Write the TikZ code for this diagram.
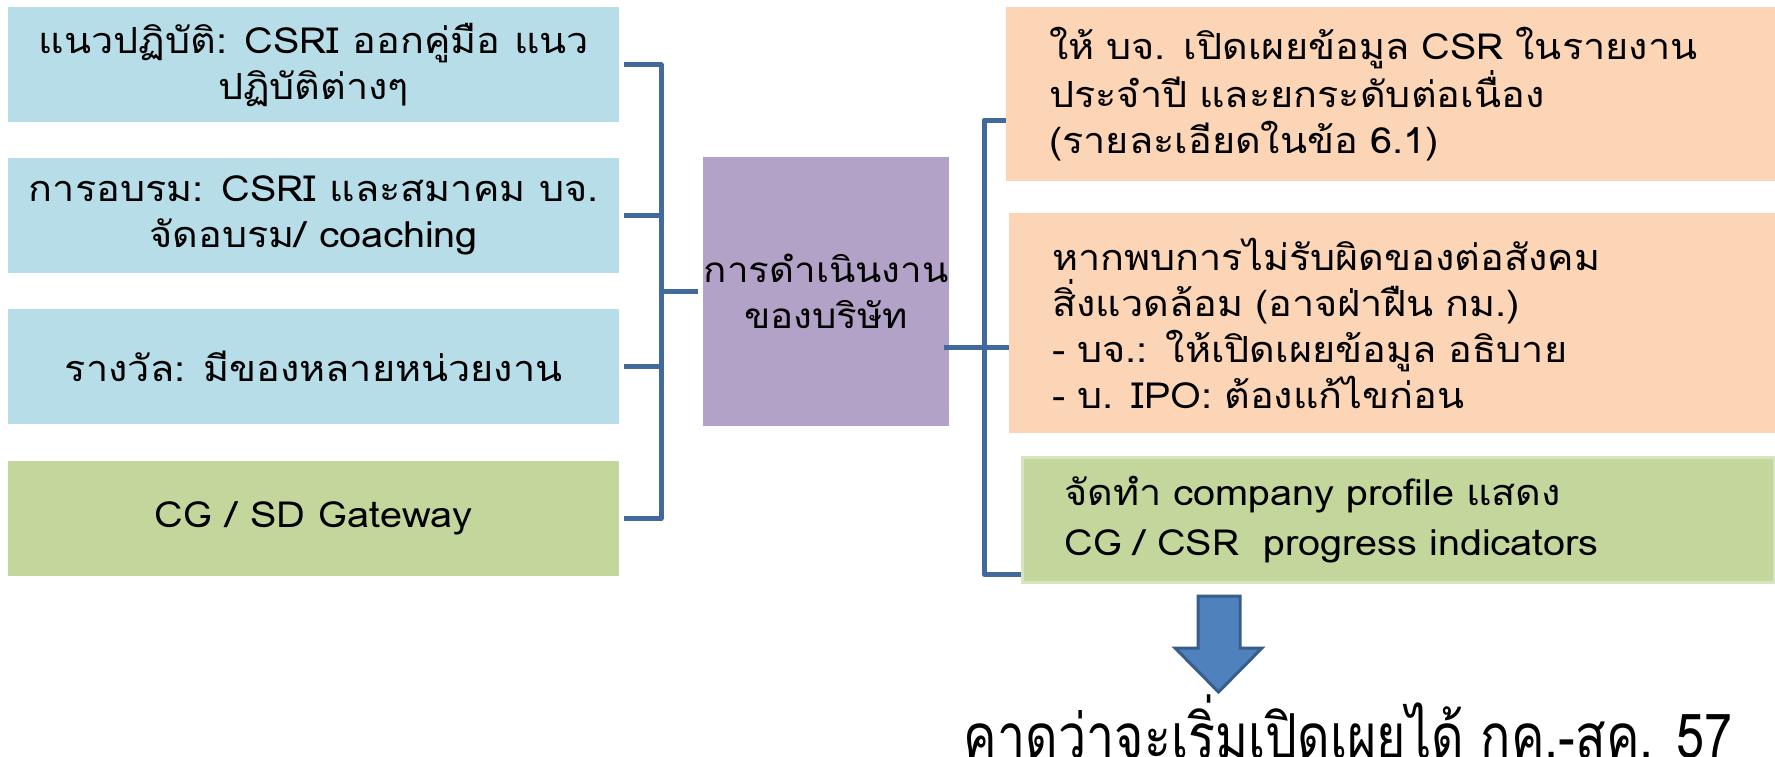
\documentclass[tikz,border=0pt]{standalone}
\usepackage{fontspec}
\setmainfont[Script=Thai,FakeStretch=1.1]{Loma}
\newfontfamily\bigthai[Script=Thai,FakeStretch=0.81]{Loma}
\usetikzlibrary{calc}
\definecolor{cblue}{HTML}{B7DEE8}
\definecolor{cgreen}{HTML}{C3D69B}
\definecolor{cgreenline}{HTML}{D7E4BD}
\definecolor{corange}{HTML}{FBD5B5}
\definecolor{cpurple}{HTML}{B3A2C7}
\definecolor{cline}{HTML}{41699C}
\definecolor{carrow}{HTML}{4F81BD}
\definecolor{carrowline}{HTML}{385D8A}
\tikzset{
  boxtext/.style={font=\fontsize{36}{46}\selectfont, text=black},
  lbox/.style={boxtext, fill=cblue, minimum width=611pt, minimum height=115pt, align=center, inner sep=0pt, anchor=north west},
  rbox/.style={boxtext, fill=corange, inner xsep=43pt, inner ysep=0pt, align=left, anchor=north west},
  conn/.style={draw=cline, line width=5pt, line join=round},
}
\begin{document}
\begin{tikzpicture}[x=1pt,y=-1pt]
\useasboundingbox[fill=white] (0,0) rectangle (1775,756);
% left column
\node[lbox] (l1) at (8,7) {แนวปฏิบัติ: CSRI ออกคู่มือ แนว\\ปฏิบัติต่างๆ};
\node[lbox] (l2) at (8,158) {การอบรม: CSRI และสมาคม บจ.\\จัดอบรม/ coaching};
\node[lbox] (l3) at (8,309) {รางวัล: มีของหลายหน่วยงาน};
\node[lbox, fill=cgreen] (l4) at (8,461) {CG / SD Gateway};
% centre
\node[boxtext, font=\fontsize{35}{46}\selectfont, fill=cpurple, text width=246pt, minimum height=269pt, inner sep=0pt, align=center, anchor=north west] (c) at (703,157) {การดำเนินงาน\\ของบริษัท};
% right column
\node[rbox, text width=683pt, minimum height=174pt] (r1) at (1006,7) {ให้ บจ. เปิดเผยข้อมูล CSR ในรายงาน\\ประจำปี และยกระดับต่อเนื่อง\\(รายละเอียดในข้อ 6.1)};
\node[rbox, text width=680pt, minimum height=220pt] (r2) at (1009,213) {หากพบการไม่รับผิดของต่อสังคม\\สิ่งแวดล้อม (อาจฝ่าฝืน กม.)\\- บจ.: ให้เปิดเผยข้อมูล อธิบาย\\- บ. IPO: ต้องแก้ไขก่อน};
\node[rbox, font=\fontsize{36}{50}\selectfont, fill=cgreen, draw=cgreenline, line width=3pt, text width=668pt, minimum height=125pt, inner xsep=42pt] (r3) at (1021,456) {จัดทำ company profile แสดง\\CG / CSR\ \ progress indicators};
% bottom text
\node[font=\bigthai\fontsize{62}{70}\selectfont, anchor=base, inner sep=0pt] (bt) at (1348,758) {คาดว่าจะเริ่มเปิดเผยได้ กค.-สค. 57};
% left bracket
\coordinate (lx) at (661,0);
\draw[conn] ([xshift=5pt]l1.east) -| (lx |- l4.east) -- ([xshift=5pt]l4.east);
\draw[conn] ([xshift=5pt]l2.east) -- (lx |- l2.east);
\draw[conn] ([xshift=5pt]l3.east) -- (lx |- l3.east);
\draw[conn] (lx |- c.west) -- ([xshift=-5pt]c.west);
% right bracket
\coordinate (rx) at (984,0);
\draw[conn] (r1.west |- 0,120) -| (rx |- 0,574) -- (r3.west |- 0,574);
\draw[conn] ([xshift=-5pt]c.east |- 0,347) -- (r2.west |- 0,347);
% arrow
\draw[fill=carrow, draw=carrowline, line width=3pt, line join=miter]
  (1198,596) -- (1240,596) -- (1240,648) -- (1262,648) -- (1218.5,692) -- (1175,648) -- (1198,648) -- cycle;
\end{tikzpicture}
\end{document}
